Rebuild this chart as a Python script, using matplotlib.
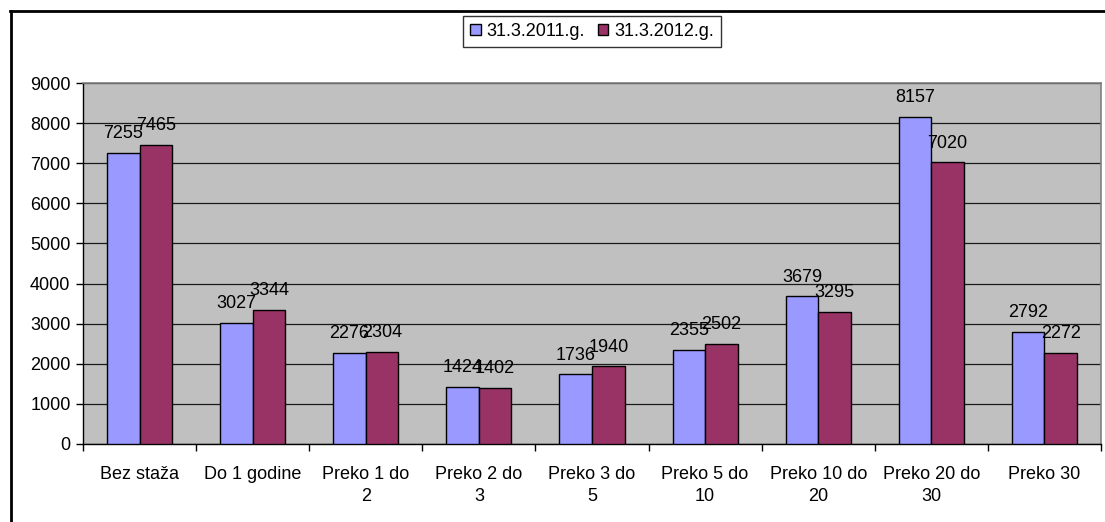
import matplotlib.pyplot as plt
import numpy as np
from matplotlib.lines import Line2D

plt.rcParams['font.family'] = ['Liberation Sans', 'DejaVu Sans']

categories = ["Bez staža", "Do 1 godine", "Preko 1 do\n2", "Preko 2 do\n3", "Preko 3 do\n5",
              "Preko 5 do\n10", "Preko 10 do\n20", "Preko 20 do\n30", "Preko 30"]
series_names = ["31.3.2011.g.", "31.3.2012.g."]
values_2011 = [7255, 3027, 2276, 1424, 1736, 2355, 3679, 8157, 2792]
values_2012 = [7465, 3344, 2304, 1402, 1940, 2502, 3295, 7020, 2272]
y_ticks = [0, 1000, 2000, 3000, 4000, 5000, 6000, 7000, 8000, 9000]

W, H = 1105, 522
fig = plt.figure(figsize=(W / 100, H / 100), dpi=100)
fig.patch.set_facecolor('white')

# plot area in pixel units
left, top, right, bottom = 83, 83, 1101, 444
ax = fig.add_axes([left / W, 1 - bottom / H, (right - left) / W, (bottom - top) / H])
ax.set_facecolor('#C0C0C0')

fs = 13
x = np.arange(len(categories))
bw = 0.288
colors = ['#9999FF', '#993366']
bars = []
for i, (vals, c) in enumerate(zip([values_2011, values_2012], colors)):
    b = ax.bar(x + (i - 0.5) * bw, vals, width=bw, color=c, edgecolor='black',
               linewidth=1.0, label=series_names[i], zorder=3)
    bars.append(b)
    for xi, v in zip(x + (i - 0.5) * bw, vals):
        ax.annotate(str(v), (xi, v), xytext=(0, 10.5), textcoords='offset points',
                    ha='center', va='baseline', fontsize=fs, zorder=4)

ax.set_xlim(-0.5, len(categories) - 0.5)
ax.set_ylim(0, 9000)
ax.set_yticks(y_ticks)
ax.set_yticklabels([str(t) for t in y_ticks], fontsize=fs)
ax.yaxis.grid(True, color='#1a1a1a', linewidth=0.9, zorder=1)
ax.set_axisbelow(True)

ax.set_xticks(x)
ax.set_xticklabels(categories, fontsize=fs, linespacing=1.45)
ax.set_xticks(np.arange(-0.5, len(categories)), minor=True)
ax.tick_params(axis='x', which='major', length=0, pad=15.5)
ax.tick_params(axis='x', which='minor', length=5, width=1, color='black', direction='out')
ax.tick_params(axis='y', length=5, width=1, color='black', direction='out', pad=4)

for s in ['top', 'right']:
    ax.spines[s].set_color('#808080')
    ax.spines[s].set_linewidth(1.2)
ax.spines['left'].set_color('black')
ax.spines['bottom'].set_color('black')
ax.spines['left'].set_linewidth(1)
ax.spines['bottom'].set_linewidth(1)

leg = fig.legend(handles=bars, labels=series_names, loc='center',
                 bbox_to_anchor=(592 / W, 1 - 31.5 / H), ncol=2, fontsize=fs,
                 frameon=True, fancybox=False, handlelength=0.6, handleheight=0.6,
                 handletextpad=0.3, columnspacing=0.7, borderpad=0.4)
leg.get_frame().set_edgecolor('black')
leg.get_frame().set_linewidth(1)

# outer chart border (partially visible)
fig.add_artist(Line2D([10.5 / W, 10.5 / W], [0, 1 - 11 / H], color='black', linewidth=2))
fig.add_artist(Line2D([10 / W, 1], [1 - 11 / H, 1 - 11 / H], color='black', linewidth=2))

fig.savefig('out.png', dpi=100)
